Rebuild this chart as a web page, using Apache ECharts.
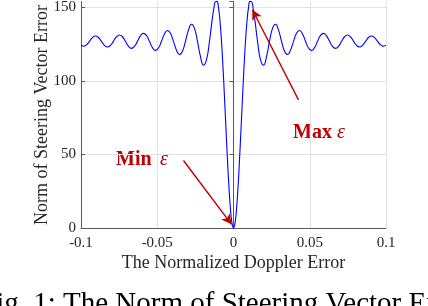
<!DOCTYPE html>
<html>
<head>
<meta charset="utf-8">
<script src="https://cdn.jsdelivr.net/npm/echarts@6/dist/echarts.min.js"></script>
<style>
html,body{margin:0;padding:0;background:#fff;}
#c{width:428px;height:306px;}
</style>
</head>
<body>
<div id="c"></div>
<script>
// Normalized Doppler error (x) and norm of steering vector error (y)
var xs = [
 -0.1, -0.09843, -0.09646, -0.09449, -0.09252, -0.09055, -0.08858, -0.08661, -0.08465, -0.08268,
 -0.08071, -0.07874, -0.07677, -0.0748, -0.07283, -0.07087, -0.0689, -0.06693, -0.06496, -0.06299,
 -0.06102, -0.05906, -0.05709, -0.05512, -0.05315, -0.05118, -0.04921, -0.04724, -0.04528, -0.04331,
 -0.04134, -0.03937, -0.0374, -0.03543, -0.03346, -0.0315, -0.02953, -0.02756, -0.02559, -0.02362,
 -0.02165, -0.01969, -0.01772, -0.01575, -0.01476, -0.01378, -0.0128, -0.01181, -0.01083, -0.00984,
 -0.00886, -0.00787, -0.00689, -0.00591, -0.00492, -0.00394, -0.00295, -0.00197, -0.00098, 0,
 0.00098, 0.00197, 0.00295, 0.00394, 0.00492, 0.00591, 0.00689, 0.00787, 0.00886, 0.00984,
 0.01083, 0.01181, 0.0128, 0.01378, 0.01476, 0.01575, 0.01772, 0.01969, 0.02165, 0.02362,
 0.02559, 0.02756, 0.02953, 0.0315, 0.03346, 0.03543, 0.0374, 0.03937, 0.04134, 0.04331,
 0.04528, 0.04724, 0.04921, 0.05118, 0.05315, 0.05512, 0.05709, 0.05906, 0.06102, 0.06299,
 0.06496, 0.06693, 0.0689, 0.07087, 0.07283, 0.0748, 0.07677, 0.07874, 0.08071, 0.08268,
 0.08465, 0.08661, 0.08858, 0.09055, 0.09252, 0.09449, 0.09646, 0.09843, 0.1
];
var ys = [
 124.4, 123.7, 124.6, 127, 129.5, 130.6, 129.6, 127, 124.3, 123.1,
 124.2, 127, 130.0, 131.3, 130.1, 127, 123.7, 122.2, 123.5, 127,
 130.7, 132.4, 131.0, 127, 122.7, 120.8, 122.4, 127, 132.0, 134.4,
 132.5, 127, 121.0, 118.0, 120.3, 127, 134.6, 138.6, 135.8, 127,
 116.6, 110.8, 114.3, 127, 135.3, 143.3, 150.0, 154.0, 154.2, 149.9,
 140.8, 127, 109.3, 88.9, 67.2, 46.2, 27.4, 12.7, 3.2, 0,
 3.2, 12.7, 27.4, 46.2, 67.2, 88.9, 109.3, 127, 140.8, 149.9,
 154.2, 154.0, 150.0, 143.3, 135.3, 127, 114.3, 110.8, 116.6, 127,
 135.8, 138.6, 134.6, 127, 120.3, 118.0, 121.0, 127, 132.5, 134.4,
 132.0, 127, 122.4, 120.8, 122.7, 127, 131.0, 132.4, 130.7, 127,
 123.5, 122.2, 123.7, 127, 130.1, 131.3, 130.0, 127, 124.2, 123.1,
 124.3, 127, 129.6, 130.6, 129.5, 127, 124.6, 123.7, 124.4
];
var xTicks = ['-0.1', '-0.05', '0', '0.05', '0.1'];
var yTicks = ['0', '50', '100', '150'];
// annotation arrows [tail, head] in data units
var minArrow = [[-0.0328, 45.9], [-0.0013, 2.5]];
var maxArrow = [[0.0426, 87.2], [0.0124, 148.5]];

var data = xs.map(function (x, i) { return [x, ys[i]]; });
var serif = '"Liberation Serif", "DejaVu Serif", serif';
var axisCol = '#5a5a5a';
var gridCol = '#e3e3e3';
var red = '#c00000';

var chart = echarts.init(document.getElementById('c'), null, {renderer: 'canvas'});
chart.setOption({
  animation: false,
  backgroundColor: '#ffffff',
  grid: {left: 81, right: 42, top: 0, bottom: 78, containLabel: false},
  xAxis: [{
    type: 'value', min: -0.1, max: 0.1, interval: 0.05,
    axisLine: {show: true, onZero: false, lineStyle: {color: axisCol, width: 1}},
    axisTick: {show: false},
    splitLine: {show: true, lineStyle: {color: gridCol, width: 1}},
    axisLabel: {
      color: '#262626', fontFamily: serif, fontSize: 15, margin: 8,
      formatter: function (v) {
        var i = Math.round((v + 0.1) / 0.05);
        return xTicks[i] !== undefined ? xTicks[i] : '';
      }
    }
  }],
  yAxis: [{
    type: 'value', min: 0, max: 154.05, interval: 50,
    axisLine: {show: true, onZero: false, lineStyle: {color: axisCol, width: 1}},
    axisTick: {show: true, inside: true, length: 4, lineStyle: {color: axisCol}},
    splitLine: {show: true, showMaxLine: false, lineStyle: {color: gridCol, width: 1}},
    axisLabel: {
      color: '#262626', fontFamily: serif, fontSize: 15, margin: 5,
      showMaxLabel: false,
      formatter: function (v) {
        var i = Math.round(v / 50);
        return (Math.abs(v - i * 50) < 1e-6 && yTicks[i] !== undefined) ? yTicks[i] : '';
      }
    }
  }, {
    type: 'value', min: 0, max: 154.05, interval: 50, position: 'right',
    axisLine: {show: true, lineStyle: {color: axisCol, width: 1}},
    axisTick: {show: true, inside: true, length: 4, lineStyle: {color: axisCol}},
    axisLabel: {show: false}, splitLine: {show: false}
  }],
  series: [{
    type: 'line',
    data: data,
    smooth: 0.5,
    showSymbol: false,
    symbol: 'none',
    clip: false,
    lineStyle: {color: '#0000ff', width: 1.1},
    markLine: {
      silent: true,
      symbol: ['none', 'arrow'],
      symbolSize: [8, 10],
      label: {show: false},
      lineStyle: {color: red, width: 1.4, type: 'solid'},
      emphasis: {disabled: true},
      data: [
        [{coord: minArrow[0]}, {coord: minArrow[1]}],
        [{coord: maxArrow[0]}, {coord: maxArrow[1]}]
      ]
    }
  }],
  graphic: [
    {type: 'text', x: 42, y: 115, rotation: Math.PI / 2,
      style: {text: 'Norm of Steering Vector Error', font: '18px ' + serif, fill: '#262626',
        align: 'center', verticalAlign: 'middle'}},
    {type: 'text', x: 233.5, y: 263,
      style: {text: 'The Normalized Doppler Error', font: '18px ' + serif, fill: '#262626',
        align: 'center', verticalAlign: 'middle'}},
    {type: 'text', x: 116, y: 150,
      style: {text: 'Min', font: 'bold 20px ' + serif, fill: red, align: 'left', verticalAlign: 'alphabetic'}},
    {type: 'text', x: 160, y: 150,
      style: {text: 'ε', font: 'italic 20px ' + serif, fill: '#9a0000', align: 'left', verticalAlign: 'alphabetic'}},
    {type: 'text', x: 293, y: 123,
      style: {text: 'Max', font: 'bold 20px ' + serif, fill: red, align: 'left', verticalAlign: 'alphabetic'}},
    {type: 'text', x: 337, y: 123,
      style: {text: 'ε', font: 'italic 20px ' + serif, fill: '#9a0000', align: 'left', verticalAlign: 'alphabetic'}},
    {type: 'text', left: -20, top: 290,
      style: {text: 'Fig. 1: The Norm of Steering Vector Error', font: '29px ' + serif, fill: '#000'}}
  ]
});
</script>
</body>
</html>
